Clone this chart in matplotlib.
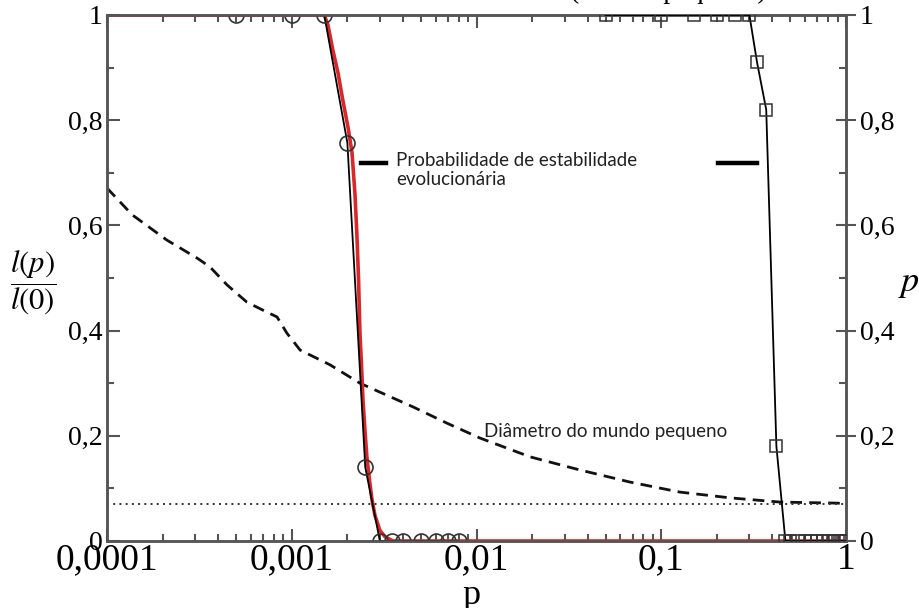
import numpy as np
import matplotlib
matplotlib.use("Agg")
import matplotlib.pyplot as plt
from matplotlib.lines import Line2D
from matplotlib.ticker import FixedLocator, MultipleLocator, LogLocator, NullFormatter

plt.rcParams['mathtext.fontset'] = 'stix'

# Evolutionary stability probability (circles)
p_circ = [0.0005, 0.001, 0.0015, 0.002, 0.0025, 0.003, 0.0035, 0.004, 0.005, 0.006, 0.007, 0.008]
l_circ = [1.0, 1.0, 1.0, 0.757, 0.14, 0.0, 0.0, 0.0, 0.0, 0.0, 0.0, 0.0]

# Fitted sigmoid (red)
p_red = [0.0001, 0.0015, 0.00157, 0.00167, 0.00178, 0.00189, 0.00202, 0.00212,
         0.0022, 0.00225, 0.0023, 0.00234, 0.002385, 0.00243, 0.00249, 0.00255,
         0.002635, 0.00272, 0.00282, 0.0030, 0.0032, 0.00353, 1.0]
l_red = [1.0, 1.0, 0.981, 0.933, 0.89, 0.838, 0.785, 0.738,
         0.658, 0.586, 0.496, 0.395, 0.335, 0.268, 0.211, 0.16,
         0.116, 0.078, 0.049, 0.02, 0.008, 0.0, 0.0]

# Squares (right axis, p_e)
p_sq = [0.05, 0.1, 0.15, 0.2, 0.25, 0.3, 0.33, 0.37, 0.42, 0.47,
        0.5, 0.55, 0.6, 0.65, 0.7, 0.75, 0.8, 0.85, 0.9, 0.95, 1.0]
pe_sq = [1.0, 1.0, 1.0, 1.0, 1.0, 1.0, 0.91, 0.82, 0.18, 0.0,
         0.0, 0.0, 0.0, 0.0, 0.0, 0.0, 0.0, 0.0, 0.0, 0.0, 0.0]

# Small-world diameter (dashed)
p_diam = [1.0e-4, 1.37e-4, 2.11e-4, 3.07e-4, 3.61e-4, 4.46e-4, 5.72e-4, 7.35e-4,
          8.32e-4, 9.42e-4, 1.11e-3, 1.61e-3, 2.34e-3, 3.0e-3, 4.53e-3, 6.92e-3,
          1.04e-2, 1.95e-2, 3.63e-2, 6.78e-2, 0.126, 0.236, 0.44, 0.894, 1.0]
l_diam = [0.671, 0.620, 0.572, 0.538, 0.521, 0.487, 0.454, 0.435, 0.426, 0.395,
          0.363, 0.335, 0.30, 0.283, 0.255, 0.224, 0.196, 0.160, 0.135, 0.112,
          0.093, 0.082, 0.074, 0.072, 0.071]

# Reference level (dotted)
ref_level = 0.07

x_ticks = [0.0001, 0.001, 0.01, 0.1, 1]
x_ticklabels = ["0,0001", "0,001", "0,01", "0,1", "1"]
y_ticks = [0, 0.2, 0.4, 0.6, 0.8, 1.0]
y_ticklabels = ["0", "0,2", "0,4", "0,6", "0,8", "1"]

spine_col = "#555555"
red = "#d8282a"

fig = plt.figure(figsize=(9.19, 6.08), dpi=100)
ax = fig.add_axes([107/919, 1-541/608, (846-107)/919, (541-15)/608])
ax2 = ax.twinx()

ax.plot(p_red, l_red, color=red, lw=2.6, zorder=3)
ax.plot(p_circ, l_circ, color="black", lw=1.3, marker="o", ms=10.8,
        mfc="none", mec="#333333", mew=1.2, zorder=4)
ax.plot(p_diam, l_diam, color="#111111", lw=2.0, dashes=(4.2, 2.6), zorder=2)
ax.axhline(ref_level, color="#333333", lw=1.4, ls=(0, (1, 2.2)), zorder=2)
ax2.plot(p_sq, pe_sq, color="black", lw=1.3, marker="s", ms=8.5,
         mfc="none", mec="#333333", mew=1.1, zorder=4)

for a in (ax, ax2):
    a.set_xscale("log")
    a.set_xlim(1e-4, 1)
    a.set_ylim(0, 1)
    for s in a.spines.values():
        s.set_color(spine_col)
        s.set_linewidth(1.8)

ax.xaxis.set_major_locator(FixedLocator(x_ticks))
ax.set_xticklabels(x_ticklabels)
ax.xaxis.set_minor_locator(LogLocator(base=10, subs=np.arange(2, 10)))
ax.xaxis.set_minor_formatter(NullFormatter())
ax.set_yticks(y_ticks)
ax.set_yticklabels(y_ticklabels)
ax.yaxis.set_minor_locator(MultipleLocator(0.1))
ax2.set_yticks(y_ticks)
ax2.set_yticklabels(y_ticklabels)
ax2.yaxis.set_minor_locator(MultipleLocator(0.1))

serif = "Liberation Serif"
ax.tick_params(axis="x", which="both", direction="in", top=True, color=spine_col, width=1.5)
ax.tick_params(axis="x", which="major", length=9, labelsize=27, pad=1)
ax.tick_params(axis="x", which="minor", length=5)
ax.tick_params(axis="y", which="both", direction="in", color=spine_col, width=1.5)
ax.tick_params(axis="y", which="major", length=9, labelsize=20, pad=3)
ax.tick_params(axis="y", which="minor", length=5)
ax2.tick_params(axis="y", which="both", direction="inout", color=spine_col, width=1.5)
ax2.tick_params(axis="y", which="major", length=14, labelsize=20, pad=3)
ax2.tick_params(axis="y", which="minor", direction="in", length=5)
for lab in ax.get_xticklabels() + ax.get_yticklabels() + ax2.get_yticklabels():
    lab.set_fontfamily(serif)

# Annotations
sans = "Lato"
ax.text((396-107)/739, (541-170)/526, "Probabilidade de estabilidade\nevolucionária",
        transform=ax.transAxes, fontsize=13.5, family=sans, color="#222222",
        ha="left", va="center", linespacing=1.2)
ax.text((484-107)/739, (541-431)/526, "Diâmetro do mundo pequeno",
        transform=ax.transAxes, fontsize=13.5, family=sans, color="#222222",
        ha="left", va="center")
for x0, x1 in [(361, 386), (718, 757)]:
    ax.add_line(Line2D([(x0-107)/739, (x1-107)/739], [(541-163)/526]*2,
                       transform=ax.transAxes, color="black", lw=3.2, zorder=5))

# Axis labels
fig.text(33/919, 1-283/608, r"$\dfrac{l(p)}{l(0)}$", fontsize=22, ha="center", va="center")
fig.text(898/919, 1-283/608, r"$p_e$", fontsize=26, ha="left", va="center")
fig.text(471/919, 1-596/608, "p", fontsize=26, family=serif, ha="center", va="center")
fig.text(668/919, 1+2/608, "(mundo pequeno)", fontsize=20, family=serif,
         ha="center", va="baseline")

fig.savefig("out.png", dpi=100)
